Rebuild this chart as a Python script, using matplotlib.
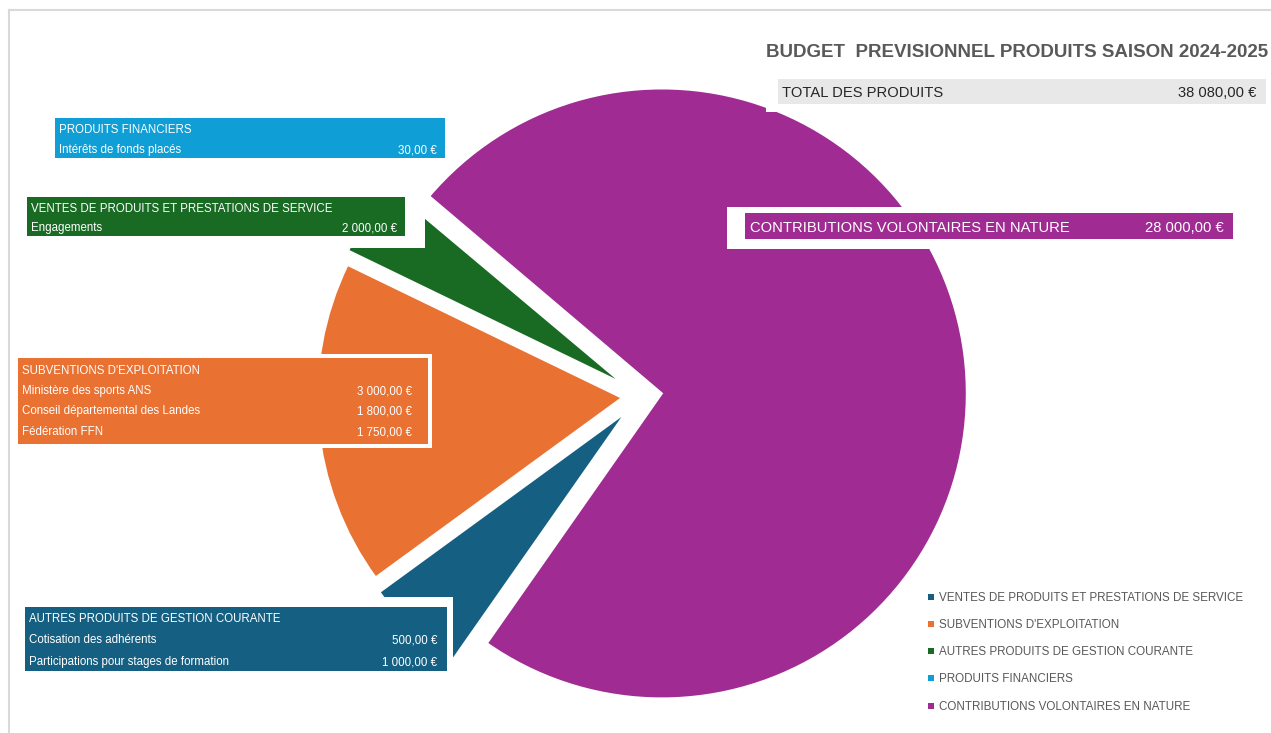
import matplotlib
matplotlib.use("Agg")
import matplotlib.pyplot as plt
from matplotlib.patches import Rectangle
from matplotlib.lines import Line2D

# ---------------- data ----------------
categories = ["VENTES DE PRODUITS ET PRESTATIONS DE SERVICE",
              "SUBVENTIONS D'EXPLOITATION",
              "AUTRES PRODUITS DE GESTION COURANTE",
              "PRODUITS FINANCIERS",
              "CONTRIBUTIONS VOLONTAIRES EN NATURE"]
values = [2000, 6550, 1500, 30, 28000]
colors = ["#156082", "#E97132", "#196B24", "#0F9ED5", "#A02B93"]

fin_items = ["Intérêts de fonds placés"]
fin_vals = [30]
ventes_items = ["Engagements"]
ventes_vals = [2000]
subv_items = ["Ministère des sports ANS", "Conseil départemental des Landes", "Fédération FFN"]
subv_vals = [3000, 1800, 1750]
autres_items = ["Cotisation des adhérents", "Participations pour stages de formation"]
autres_vals = [500, 1000]
contrib_val = 28000
total_val = sum(values)

title = "BUDGET  PREVISIONNEL PRODUITS SAISON 2024-2025"


def eur(v):
    s = f"{v:,.2f}".replace(",", " ").replace(".", ",")
    return s + " €"


W, H = 1271, 733
fig = plt.figure(figsize=(W / 100, H / 100), dpi=100)
ax = fig.add_axes([0, 0, 1, 1])

FONT = ["Liberation Sans", "DejaVu Sans"]


def Y(y):
    return H - y


ax.pie(values, colors=colors, startangle=235, counterclock=False,
       explode=[23, 20, 23, 23, 20], radius=305,
       center=(642, Y(396)),
       wedgeprops=dict(edgecolor="white", linewidth=1.5, joinstyle="miter"))
ax.set_xlim(0, W)
ax.set_ylim(0, H)
ax.set_aspect("equal")
ax.set_axis_off()

# thin border lines (top / left)
ax.add_line(Line2D([9, 9], [Y(10), Y(733)], color="#D9D9D9", lw=1.5))
ax.add_line(Line2D([9, W], [Y(10), Y(10)], color="#D9D9D9", lw=1.5))


def white(x0, x1, y0, y1, z=5):
    ax.add_patch(Rectangle((x0, Y(y1)), x1 - x0, y1 - y0, fc="white", ec="none", zorder=z))


def box(x0, x1, y0, y1, fc, pad=4, z=5):
    white(x0 - pad, x1 + pad, y0 - pad, y1 + pad, z)
    ax.add_patch(Rectangle((x0, Y(y1)), x1 - x0, y1 - y0, fc=fc, ec="none", zorder=z + 0.5))


def txt(x, y, s, ha="left", color="white", size=8.3, weight="normal", z=7):
    # y is the visual centre of capital letters (pixels from top)
    off = size * 100 / 72 * 0.716 / 2
    ax.text(x, Y(y) - off, s, ha=ha, va="baseline", color=color, fontsize=size,
            fontweight=weight, family=FONT, zorder=z)


def label_block(x0, x1, y0, y1, fc, head, items, vals, rows_y, vx):
    box(x0, x1, y0, y1, fc)
    txt(x0 + 4, rows_y[0], head)
    for it, v, yy in zip(items, vals, rows_y[1:]):
        txt(x0 + 4, yy, it)
        txt(vx, yy, eur(v), ha="right")


# PRODUITS FINANCIERS
label_block(55, 445, 118, 158, colors[3], categories[3], fin_items, fin_vals, [129, 149], 437)
# VENTES
white(22, 425, 184, 248, z=4.8)
label_block(27, 405, 197, 236, colors[2], categories[0], ventes_items, ventes_vals, [208, 227], 397)
# SUBVENTIONS
label_block(18, 428, 358, 444, colors[1], categories[1], subv_items, subv_vals,
            [370, 390, 410, 431], 412)
# AUTRES
white(20, 453, 597, 676, z=4.8)
label_block(25, 447, 607, 671, colors[0], categories[2], autres_items, autres_vals,
            [618, 639, 661], 437)

# CONTRIBUTIONS
white(727, 1240, 207, 249)
ax.add_patch(Rectangle((745, Y(239)), 488, 26, fc=colors[4], ec="none", zorder=5.5))
txt(750, 227, categories[4], size=10.6)
txt(1224, 227, eur(contrib_val), ha="right", size=10.6)

# title and total
txt(1268, 50, title, ha="right", color="#595959", size=13.5, weight="bold")
white(766, 780, 102, 112)
ax.add_patch(Rectangle((778, Y(104)), 488, 25, fc="#E8E8E8", ec="none", zorder=5.5))
txt(782, 92, "TOTAL DES PRODUITS", color="#262626", size=10.6)
txt(1256, 92, eur(total_val), ha="right", color="#262626", size=10.6)

# legend
leg_y = [597, 624, 651, 678, 706]
for c, lab, yy in zip(colors, categories, leg_y):
    ax.add_patch(Rectangle((928, Y(yy) - 3), 6, 6, fc=c, ec="none", zorder=6))
    txt(939, yy, lab, color="#595959", size=8.4)

fig.savefig("out.png", dpi=100, facecolor="white")
